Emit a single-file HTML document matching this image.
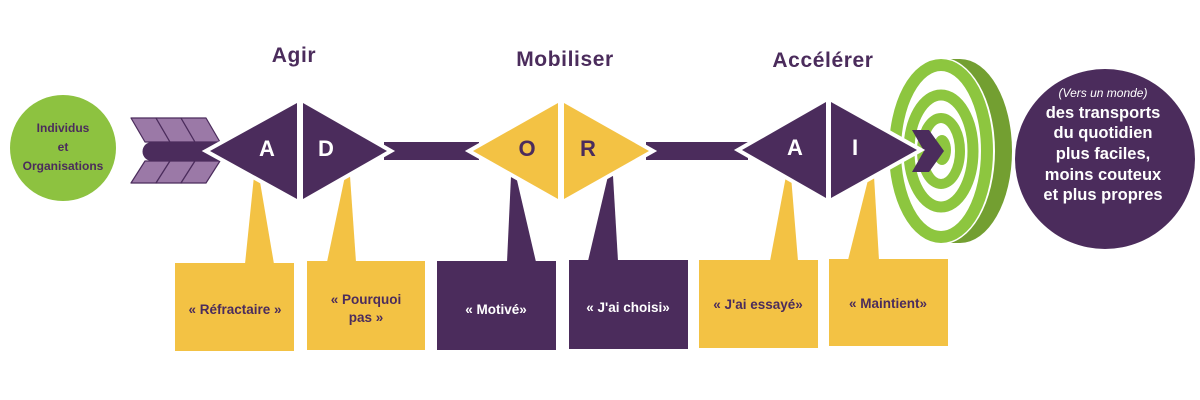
<!DOCTYPE html>
<html><head><meta charset="utf-8">
<style>
html,body{margin:0;padding:0;background:#fff;}
svg{display:block;}
text{font-family:"Liberation Sans",sans-serif;}
</style></head>
<body>
<svg width="1200" height="400" viewBox="0 0 1200 400" xmlns="http://www.w3.org/2000/svg">
<rect width="1200" height="400" fill="#fff"/>

<!-- left circle -->
<circle cx="63" cy="148" r="53" fill="#8dc240"/>
<g fill="#4b2c5c" font-weight="bold" font-size="12" text-anchor="middle">
<text x="63" y="132">Individus</text>
<text x="63" y="151">et</text>
<text x="63" y="170">Organisations</text>
</g>

<!-- titles -->
<g fill="#4b2c5c" font-weight="bold" font-size="21" text-anchor="middle" letter-spacing="0.6">
<text x="294" y="62">Agir</text>
<text x="565" y="66">Mobiliser</text>
<text x="823" y="67">Accélérer</text>
</g>

<!-- target -->
<ellipse cx="960" cy="151" rx="52" ry="92" fill="#739f31"/>
<rect x="941" y="59" width="19" height="184" fill="#739f31"/>
<ellipse cx="941" cy="151" rx="54" ry="93.5" fill="#fff"/>
<ellipse cx="941" cy="151" rx="46" ry="86" fill="none" stroke="#8dc63f" stroke-width="12"/>
<ellipse cx="941" cy="151" rx="32" ry="56" fill="none" stroke="#8dc63f" stroke-width="11"/>
<ellipse cx="941" cy="151" rx="19" ry="33" fill="none" stroke="#8dc63f" stroke-width="10"/>
<ellipse cx="942" cy="150" rx="9" ry="15" fill="#8dc63f"/>
<polygon points="912,130 929,130 944,151 929,172 912,172 924,151" fill="#4b2c5c"/>

<!-- right circle -->
<circle cx="1105" cy="159" r="90" fill="#4b2c5c"/>
<g fill="#fff" text-anchor="middle">
<text x="1103" y="97" font-size="12" font-style="italic">(Vers un monde)</text>
<g font-weight="bold" font-size="16.5">
<text x="1103" y="118">des transports</text>
<text x="1103" y="138">du quotidien</text>
<text x="1103" y="159">plus faciles,</text>
<text x="1103" y="180">moins couteux</text>
<text x="1103" y="200">et plus propres</text>
</g>
</g>

<!-- pointers -->
<polygon points="254,176 259,176 274,264 245,264" fill="#f3c244"/>
<polygon points="345,176 350,176 356,262 327,262" fill="#f3c244"/>
<polygon points="511,176 516,176 536,262 507,262" fill="#4b2c5c"/>
<polygon points="608,176 613,176 618,261 588,261" fill="#4b2c5c"/>
<polygon points="786,176 791,176 798,261 770,261" fill="#f3c244"/>
<polygon points="869,176 874,176 879,260 848,260" fill="#f3c244"/>

<!-- boxes -->
<rect x="175" y="263" width="119" height="88" fill="#f3c244"/>
<rect x="307" y="261" width="118" height="89" fill="#f3c244"/>
<rect x="437" y="261" width="119" height="89" fill="#4b2c5c"/>
<rect x="569" y="260" width="119" height="89" fill="#4b2c5c"/>
<rect x="699" y="260" width="119" height="88" fill="#f3c244"/>
<rect x="829" y="259" width="119" height="87" fill="#f3c244"/>

<g font-weight="bold" font-size="13.5" text-anchor="middle">
<text x="235" y="314" fill="#4b2c5c">« Réfractaire »</text>
<text x="366" y="304" fill="#4b2c5c">« Pourquoi</text>
<text x="366" y="322" fill="#4b2c5c">pas »</text>
<text x="496" y="314" fill="#fff">« Motivé»</text>
<text x="628" y="312" fill="#fff">« J'ai choisi»</text>
<text x="758" y="309" fill="#4b2c5c">« J'ai essayé»</text>
<text x="888" y="308" fill="#4b2c5c">« Maintient»</text>
</g>

<!-- bars -->
<rect x="384" y="142" width="95" height="18" fill="#4b2c5c"/>
<rect x="646" y="142" width="102" height="18" fill="#4b2c5c"/>

<!-- fletching -->
<g fill="#9b79a7" stroke="#4b2c5c" stroke-width="1.2" stroke-linejoin="round">
<polygon points="131,118 156,118 170,142 145,142"/>
<polygon points="156,118 181,118 195,142 170,142"/>
<polygon points="181,118 206,118 220,142 195,142"/>
<polygon points="145,161 170,161 156,183 131,183"/>
<polygon points="170,161 195,161 181,183 156,183"/>
<polygon points="195,161 220,161 206,183 181,183"/>
</g>
<path d="M152,142 H220 V161 H152 A9.5,9.5 0 0 1 152,142 Z" fill="#4b2c5c"/>

<!-- diamond halos -->
<g fill="#fff" stroke="#fff" stroke-width="8" stroke-linejoin="miter">
<polygon points="210,151 297,103 297,199"/>
<polygon points="303,103 387,151 303,199"/>
<polygon points="473,151 558,103 558,199"/>
<polygon points="564,103 649,151 564,199"/>
<polygon points="742,150 826,102 826,198"/>
<polygon points="831,102 917,150 831,198"/>
</g>
<!-- diamonds -->
<polygon points="210,151 297,103 297,199" fill="#4b2c5c"/>
<polygon points="303,103 387,151 303,199" fill="#4b2c5c"/>
<polygon points="473,151 558,103 558,199" fill="#f3c244"/>
<polygon points="564,103 649,151 564,199" fill="#f3c244"/>
<polygon points="742,150 826,102 826,198" fill="#4b2c5c"/>
<polygon points="831,102 917,150 831,198" fill="#4b2c5c"/>

<g font-size="22" font-weight="bold" text-anchor="middle">
<text x="267" y="156" fill="#fff">A</text>
<text x="326" y="156" fill="#fff">D</text>
<text x="527" y="156" fill="#4b2c5c">O</text>
<text x="588" y="156" fill="#4b2c5c">R</text>
<text x="795" y="155" fill="#fff">A</text>
<text x="855" y="155" fill="#fff">I</text>
</g>
</svg>
</body></html>
